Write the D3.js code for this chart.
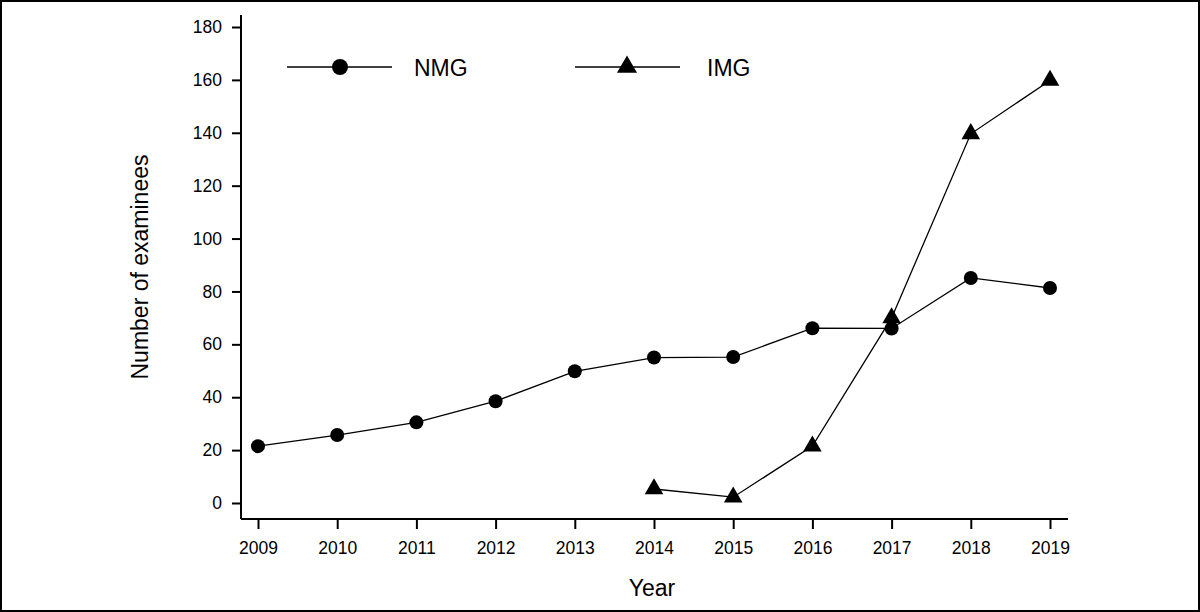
<!DOCTYPE html>
<html>
<head>
<meta charset="utf-8">
<script src="https://cdn.jsdelivr.net/npm/d3@7"></script>
<style>
  body { margin: 0; background: #fff; }
  text { font-family: "Liberation Sans", Arial, sans-serif; fill: #000; }
</style>
</head>
<body>
<svg id="chart" width="1200" height="612"></svg>
<script>
var years = [2009, 2010, 2011, 2012, 2013, 2014, 2015, 2016, 2017, 2018, 2019];
var nmgValues = [21.5, 25.7, 30.5, 38.5, 49.8, 55, 55.2, 66.1, 66, 85.1, 81.3];
var imgYears = [2014, 2015, 2016, 2017, 2018, 2019];
var imgValues = [5.3, 2.2, 21.5, 70, 139.6, 159.8];
var yTicks = [0, 20, 40, 60, 80, 100, 120, 140, 160, 180];

var svg = d3.select("#chart");
var width = 1200, height = 612;

// outer frame
svg.append("rect")
    .attr("x", 1).attr("y", 1)
    .attr("width", width - 2).attr("height", height - 2)
    .attr("fill", "none")
    .attr("stroke", "#000")
    .attr("stroke-width", 2);

var xScale = d3.scaleLinear()
               .domain([2009, 2019])
               .range([258, 1050]);

var yScale = d3.scaleLinear()
               .domain([0, 180])
               .range([503, 27]);

var axisX = 241, axisY = 519;

// axis lines (L shape)
svg.append("line")
    .attr("x1", axisX).attr("x2", axisX)
    .attr("y1", 15).attr("y2", axisY)
    .attr("stroke", "#000").attr("stroke-width", 2);
svg.append("line")
    .attr("x1", axisX).attr("x2", 1068)
    .attr("y1", axisY).attr("y2", axisY)
    .attr("stroke", "#000").attr("stroke-width", 2);

var xAxis = d3.axisBottom(xScale)
              .tickValues(years)
              .tickFormat(d3.format(".0f"))
              .tickSize(10)
              .tickPadding(13);

var gx = svg.append("g")
    .attr("transform", "translate(0," + axisY + ")")
    .call(xAxis);
gx.select(".domain").remove();
gx.selectAll(".tick line").attr("stroke", "#000").attr("stroke-width", 2);
gx.selectAll(".tick text").style("font-size", "17.5px").style("font-family", "Liberation Sans, Arial, sans-serif");

var yAxis = d3.axisLeft(yScale)
              .tickValues(yTicks)
              .tickSize(9)
              .tickPadding(10);

var gy = svg.append("g")
    .attr("transform", "translate(" + axisX + ",0)")
    .call(yAxis);
gy.select(".domain").remove();
gy.selectAll(".tick line").attr("stroke", "#000").attr("stroke-width", 2);
gy.selectAll(".tick text").style("font-size", "17.5px").style("font-family", "Liberation Sans, Arial, sans-serif");

svg.append("text")
    .attr("transform", "rotate(-90)")
    .attr("x", -267)
    .attr("y", 148)
    .style("text-anchor", "middle")
    .style("font-size", "23px")
    .text("Number of examinees");

svg.append("text")
    .attr("x", 652)
    .attr("y", 596)
    .style("text-anchor", "middle")
    .style("font-size", "23px")
    .text("Year");

var nmgData = years.map((y, i) => ({year: y, value: nmgValues[i]}));
var imgData = imgYears.map((y, i) => ({year: y, value: imgValues[i]}));

var line = d3.line()
             .x(d => xScale(d.year))
             .y(d => yScale(d.value));

svg.append("path")
    .datum(nmgData)
    .attr("d", line)
    .attr("fill", "none")
    .attr("stroke", "#000")
    .attr("stroke-width", 1.3);

svg.append("path")
    .datum(imgData)
    .attr("d", line)
    .attr("fill", "none")
    .attr("stroke", "#000")
    .attr("stroke-width", 1.3);

var triangle = d3.symbol().type(d3.symbolTriangle).size(150);
var legendTriangle = d3.symbol().type(d3.symbolTriangle).size(175);

svg.selectAll(".nmg")
    .data(nmgData)
    .enter()
    .append("circle")
      .classed("nmg", true)
      .attr("cx", d => xScale(d.year))
      .attr("cy", d => yScale(d.value))
      .attr("r", 7)
      .attr("fill", "#000");

svg.selectAll(".img")
    .data(imgData)
    .enter()
    .append("path")
      .classed("img", true)
      .attr("d", triangle)
      .attr("transform", d => "translate(" + xScale(d.year) + "," + yScale(d.value) + ")")
      .attr("fill", "#000");

// legend
var legend = svg.append("g");
legend.append("line")
    .attr("x1", 287).attr("x2", 392)
    .attr("y1", 67).attr("y2", 67)
    .attr("stroke", "#000").attr("stroke-width", 1.3);
legend.append("circle")
    .attr("cx", 340).attr("cy", 67).attr("r", 8)
    .attr("fill", "#000");
legend.append("text")
    .attr("x", 414).attr("y", 76)
    .style("font-size", "23px")
    .text("NMG");

legend.append("line")
    .attr("x1", 575).attr("x2", 680)
    .attr("y1", 67).attr("y2", 67)
    .attr("stroke", "#000").attr("stroke-width", 1.3);
legend.append("path")
    .attr("d", legendTriangle)
    .attr("transform", "translate(627,67)")
    .attr("fill", "#000");
legend.append("text")
    .attr("x", 707).attr("y", 76)
    .style("font-size", "23px")
    .text("IMG");
</script>
</body>
</html>
